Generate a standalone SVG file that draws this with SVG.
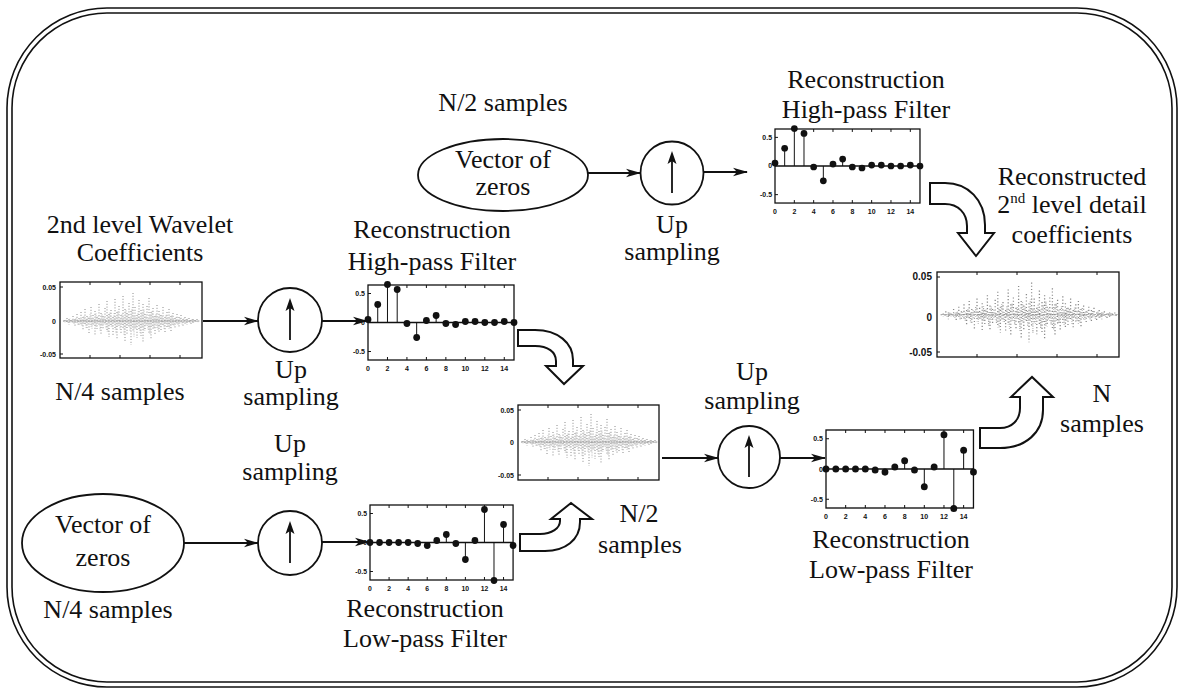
<svg xmlns="http://www.w3.org/2000/svg" xmlns:xlink="http://www.w3.org/1999/xlink" width="1180" height="690" viewBox="0 0 1180 690">
<style>
.t{font-family:"Liberation Serif","Times New Roman",serif;font-size:26px;fill:#111;text-anchor:middle}
.tk{font-family:"Liberation Sans",Arial,sans-serif;font-size:7px;font-weight:bold;fill:#111}
.tkr{font-family:"Liberation Sans",Arial,sans-serif;font-size:10px;font-weight:bold;fill:#111;text-anchor:end}
.ln{fill:none;stroke:#111;stroke-width:1.8}
.blk{fill:#fff;stroke:#111;stroke-width:2;stroke-linejoin:miter}
.box{fill:#fff;stroke:#111;stroke-width:1.3}
.sig{fill:none;stroke:#8a8a8a;stroke-width:1;stroke-dasharray:1 1.8}
.node{fill:#fff;stroke:#111;stroke-width:1.8}
</style>
<defs>
<marker id="ah" markerWidth="15" markerHeight="10" refX="14" refY="5" orient="auto" markerUnits="userSpaceOnUse">
<path d="M0,0.8 L15,5 L0,9.2 L4,5 Z" fill="#111"/>
</marker>
<g id="upArrow">
<path d="M0,20 V-12" stroke="#111" stroke-width="1.8" fill="none"/>
<path d="M0,-22 L-4.5,-9 L0,-12 L4.5,-9 Z" fill="#111"/>
</g>
<g id="stemFrame">
<rect class="box" x="0" y="0" width="146" height="75"/>
<path d="M19.47,0v3M38.93,0v3M58.4,0v3M77.87,0v3M97.33,0v3M116.8,0v3M136.27,0v3M19.47,75v-3M38.93,75v-3M58.4,75v-3M77.87,75v-3M97.33,75v-3M116.8,75v-3M136.27,75v-3M0,8.5h3M0,66.5h3" stroke="#111" stroke-width="1" fill="none"/>
<text class="tk" x="-3" y="11" text-anchor="end">0.5</text>
<text class="tk" x="-3" y="40" text-anchor="end">0</text>
<text class="tk" x="-3" y="69" text-anchor="end">-0.5</text>
<g class="tk" text-anchor="middle">
<text x="0" y="86">0</text><text x="19.47" y="86">2</text><text x="38.93" y="86">4</text><text x="58.4" y="86">6</text><text x="77.87" y="86">8</text><text x="97.33" y="86">10</text><text x="116.8" y="86">12</text><text x="136.27" y="86">14</text>
</g>
<path d="M0,37.5H146" stroke="#111" stroke-width="1.3"/>
</g>
<g id="hpPlot">
<use xlink:href="#stemFrame"/>
<path d="M9.73,37.5V19.5M19.47,37.5V-0.5M29.2,37.5V4.5M48.67,37.5V52.5M68.13,37.5V30.5" stroke="#111" stroke-width="1" fill="none"/>
<g fill="#111">
<circle cx="0" cy="34.5" r="3.4"/><circle cx="9.73" cy="19.5" r="3.4"/><circle cx="19.47" cy="-0.5" r="3.4"/><circle cx="29.2" cy="4.5" r="3.4"/><circle cx="38.93" cy="38.5" r="3.4"/><circle cx="48.67" cy="52.5" r="3.4"/><circle cx="58.4" cy="35.5" r="3.4"/><circle cx="68.13" cy="30.5" r="3.4"/><circle cx="77.87" cy="38.5" r="3.4"/><circle cx="87.6" cy="39.5" r="3.4"/><circle cx="97.33" cy="36.5" r="3.4"/><circle cx="107.07" cy="36.5" r="3.4"/><circle cx="116.8" cy="37.5" r="3.4"/><circle cx="126.53" cy="37.5" r="3.4"/><circle cx="136.27" cy="36.5" r="3.4"/><circle cx="146" cy="37.5" r="3.4"/>
</g>
</g>
<g id="lpPlot">
<use xlink:href="#stemFrame"/>
<path d="M77.87,37.5V29.5M97.33,37.5V54.5M116.8,37.5V4.5M126.53,37.5V75.5M136.27,37.5V19.5" stroke="#111" stroke-width="1" fill="none"/>
<g fill="#111">
<circle cx="0" cy="37.5" r="3.4"/><circle cx="9.73" cy="37.5" r="3.4"/><circle cx="19.47" cy="37.5" r="3.4"/><circle cx="29.2" cy="37.5" r="3.4"/><circle cx="38.93" cy="37.5" r="3.4"/><circle cx="48.67" cy="38.5" r="3.4"/><circle cx="58.4" cy="40.5" r="3.4"/><circle cx="68.13" cy="35.5" r="3.4"/><circle cx="77.87" cy="29.5" r="3.4"/><circle cx="87.6" cy="38.5" r="3.4"/><circle cx="97.33" cy="54.5" r="3.4"/><circle cx="107.07" cy="35.5" r="3.4"/><circle cx="116.8" cy="4.5" r="3.4"/><circle cx="126.53" cy="75.5" r="3.4"/><circle cx="136.27" cy="19.5" r="3.4"/><circle cx="146" cy="40.5" r="3.4"/>
</g>
</g>
<path id="sigPath" class="sig" d="M4,37V40M6,35V39M8,36V42M10,37V40M12,33V41M14,36V44M16,31V40M18,35V43M20,29V42M22,34V48M24,26V41M26,33V45M28,35V50M30,24V44M32,32V42M34,28V53M36,34V46M38,21V43M40,30V51M42,33V47M44,25V42M46,18V49M48,31V54M50,27V44M52,34V52M54,16V47M56,29V57M58,23V43M60,32V50M62,13V46M64,26V59M66,30V52M68,20V44M70,28V62M72,10V49M74,24V45M76,32V55M78,17V47M80,27V53M82,21V60M84,31V48M86,23V43M88,15V51M90,29V56M92,25V46M94,33V52M96,22V45M98,28V50M100,32V47M102,24V43M104,34V49M106,29V44M108,26V46M110,33V48M112,30V42M114,35V45M116,31V41M118,34V44M120,32V40M122,36V43M124,34V41M126,36V42M128,35V39M130,37V41M132,36V40M134,37V39M136,36V39M2,38H139"/>
<g id="sigData">
<use xlink:href="#sigPath"/>
<use xlink:href="#sigPath" transform="translate(1,38) scale(1,-0.55) translate(0,-38)"/>
</g>
</defs>

<g id="border" fill="none" stroke="#111" stroke-width="1.6">
<rect x="7" y="8" width="1170" height="679" rx="100" ry="100"/>
<rect x="12" y="13" width="1160" height="669" rx="95" ry="95"/>
</g>

<g id="zeros-top">
<text class="t" x="503" y="111">N/2 samples</text>
<ellipse class="node" cx="503" cy="175" rx="85" ry="36"/>
<text class="t" x="503" y="168">Vector of</text>
<text class="t" x="503" y="195">zeros</text>
</g>

<g id="up-top">
<circle class="node" cx="672" cy="173" r="31.5"/>
<use xlink:href="#upArrow" x="672" y="173"/>
<text class="t" x="672" y="233">Up</text>
<text class="t" x="672" y="260">sampling</text>
</g>

<g id="hp-top">
<text class="t" x="866" y="88">Reconstruction</text>
<text class="t" x="866" y="118">High-pass Filter</text>
<use xlink:href="#hpPlot" transform="translate(775,129) scale(0.993,0.987)"/>
</g>

<g id="coef2">
<text class="t" x="140" y="233">2nd level Wavelet</text>
<text class="t" x="140" y="261">Coefficients</text>
<rect class="box" x="60" y="282" width="142" height="76"/>
<use xlink:href="#sigData" transform="translate(61,283)"/>
<path d="M60,287h3M60,354h3M90,282v3M120,282v3M150,282v3M180,282v3M90,358v-3M120,358v-3M150,358v-3M180,358v-3" stroke="#111" stroke-width="1"/>
<text class="tk" x="56" y="290" text-anchor="end">0.05</text>
<text class="tk" x="56" y="324" text-anchor="end">0</text>
<text class="tk" x="56" y="357" text-anchor="end">-0.05</text>
<text class="t" x="120" y="400">N/4 samples</text>
</g>

<g id="up-left">
<circle class="node" cx="290" cy="320" r="32"/>
<use xlink:href="#upArrow" x="290" y="320"/>
<text class="t" x="291" y="378">Up</text>
<text class="t" x="291" y="405">sampling</text>
</g>

<g id="hp-mid">
<text class="t" x="432" y="238">Reconstruction</text>
<text class="t" x="432" y="270">High-pass Filter</text>
<use xlink:href="#hpPlot" transform="translate(368,285)"/>
</g>

<g id="approx1">
<rect class="box" x="518" y="405" width="141" height="75"/>
<use xlink:href="#sigData" transform="translate(519,404)"/>
<path d="M518,410h3M518,475h3M548,405v3M578,405v3M608,405v3M638,405v3M548,480v-3M578,480v-3M608,480v-3M638,480v-3" stroke="#111" stroke-width="1"/>
<text class="tk" x="514" y="413" text-anchor="end">0.05</text>
<text class="tk" x="514" y="445" text-anchor="end">0</text>
<text class="tk" x="514" y="478" text-anchor="end">-0.05</text>
<text class="t" x="639" y="522">N/2</text>
<text class="t" x="640" y="553">samples</text>
</g>

<g id="up-mid">
<text class="t" x="752" y="380">Up</text>
<text class="t" x="752" y="409">sampling</text>
<circle class="node" cx="749" cy="457" r="31"/>
<use xlink:href="#upArrow" x="749" y="457"/>
</g>

<g id="lp-right">
<use xlink:href="#lpPlot" transform="translate(826,430) scale(1.01,1.04)"/>
<text class="t" x="891" y="548">Reconstruction</text>
<text class="t" x="891" y="578">Low-pass Filter</text>
</g>

<g id="detail">
<text class="t" x="1072" y="185">Reconstructed</text>
<text class="t" x="1072" y="213">2<tspan font-size="15" dy="-10">nd</tspan><tspan dy="10"> level detail</tspan></text>
<text class="t" x="1072" y="243">coefficients</text>
<rect class="box" x="937" y="272" width="182" height="85"/>
<use xlink:href="#sigData" transform="translate(938,271) scale(1.3,1.15)"/>
<path d="M937,277h3M937,352h3M977,272v3M1017,272v3M1057,272v3M1097,272v3M977,357v-3M1017,357v-3M1057,357v-3M1097,357v-3" stroke="#111" stroke-width="1"/>
<text class="tkr" x="932" y="280">0.05</text>
<text class="tkr" x="932" y="321">0</text>
<text class="tkr" x="932" y="356">-0.05</text>
<text class="t" x="1102" y="402">N</text>
<text class="t" x="1102" y="432">samples</text>
</g>

<g id="up-label2">
<text class="t" x="290" y="452">Up</text>
<text class="t" x="290" y="480">sampling</text>
</g>

<g id="zeros-bottom">
<ellipse class="node" cx="103" cy="543" rx="81" ry="49"/>
<text class="t" x="103" y="533">Vector of</text>
<text class="t" x="103" y="566">zeros</text>
<text class="t" x="108" y="618">N/4 samples</text>
</g>

<g id="up-bottom">
<circle class="node" cx="290" cy="543" r="32"/>
<use xlink:href="#upArrow" x="290" y="543"/>
</g>

<g id="lp-bottom">
<use xlink:href="#lpPlot" transform="translate(370,505) scale(0.98,1)"/>
<text class="t" x="425" y="617">Reconstruction</text>
<text class="t" x="425" y="647">Low-pass Filter</text>
</g>

<g id="connectors">
<path class="ln" d="M588,173H640" marker-end="url(#ah)"/>
<path class="ln" d="M704,172H747" marker-end="url(#ah)"/>
<path class="ln" d="M203,321H258" marker-end="url(#ah)"/>
<path class="ln" d="M322,321H367" marker-end="url(#ah)"/>
<path class="ln" d="M662,458H718" marker-end="url(#ah)"/>
<path class="ln" d="M780,458H825" marker-end="url(#ah)"/>
<path class="ln" d="M184,543H258" marker-end="url(#ah)"/>
<path class="ln" d="M322,542H369" marker-end="url(#ah)"/>
<path class="blk" d="M930,183 L945,183 C968,183 985,200 985,225 L985,233 L994,233 L976,256 L958,233 L967,233 L967,226 C967,213 958,204 945,204 L930,204 Z"/>
<path class="blk" d="M518,330 L535,330 C558,330 573,343 573,360 L573,366 L583,366 L564,384 L546,366 L556,366 L556,361 C556,352 548,346 535,346 L518,346 Z"/>
<path class="blk" d="M520,534 L540,534 C552,534 560,528 560,521 L560,519 L551,519 L571,503 L592,519 L580,519 L580,522 C580,540 565,551 545,551 L520,551 Z"/>
<path class="blk" d="M980,428 L1000,428 C1012,428 1020,420 1020,408 L1020,397 L1011,397 L1032,377 L1053,397 L1043,397 L1043,410 C1043,433 1025,448 1000,448 L980,448 Z"/>
</g>
</svg>
